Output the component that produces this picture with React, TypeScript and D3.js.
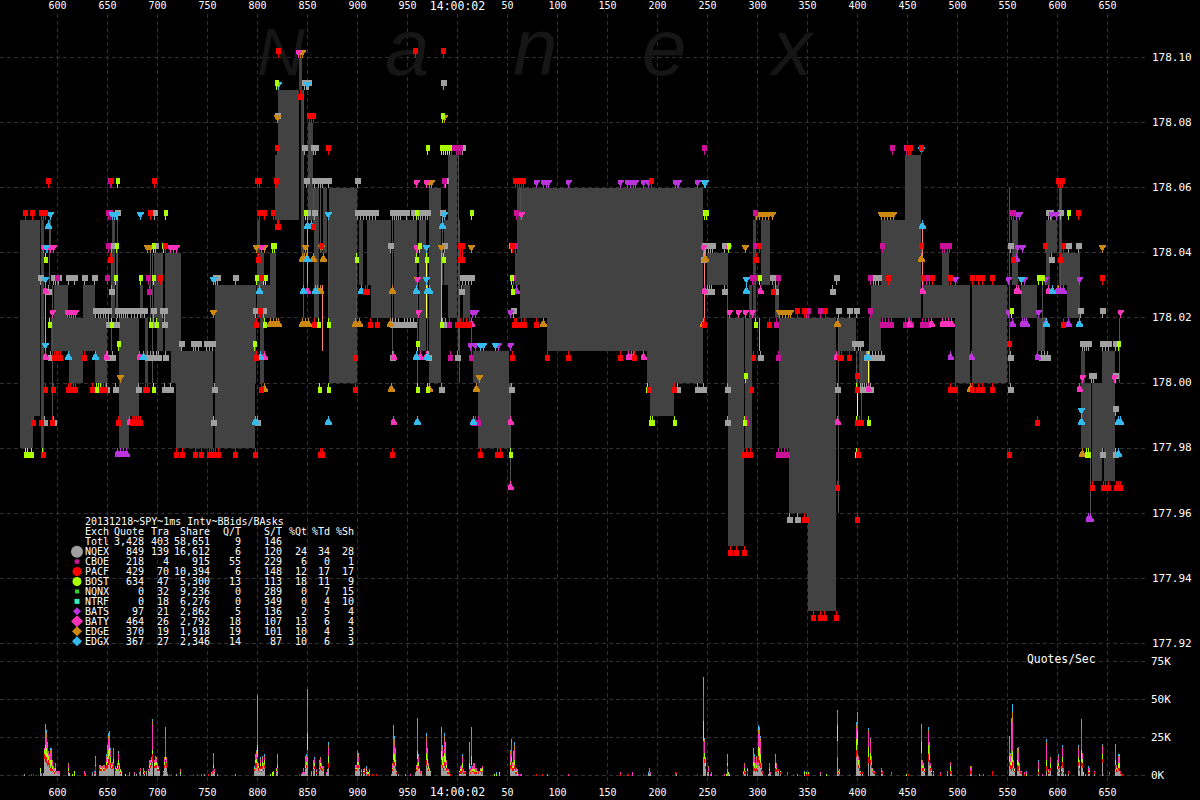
import React, { useEffect, useRef } from "react";
import * as d3 from "d3";

type Level = [number, number[]];

const timeTicks = [600, 650, 700, 750, 800, 850, 900, 950, 1000, 1050, 1100, 1150, 1200, 1250, 1300, 1350, 1400, 1450, 1500, 1550, 1600, 1650];
const timeLabels = ["600", "650", "700", "750", "800", "850", "900", "950", "14:00:02", "50", "100", "150", "200", "250", "300", "350", "400", "450", "500", "550", "600", "650"];
const priceTicks = [178.1, 178.08, 178.06, 178.04, 178.02, 178.0, 177.98, 177.96, 177.94, 177.92];
const volumeTicks = [0, 25, 50, 75];

// best ask / best bid spread: start ms, end ms, ask, bid
const spreads: [number, number, number, number][] = [
  [563, 576, 178.05, 177.98], [576, 583, 178.05, 177.99], [584, 587, 178.05, 177.98], [594, 597, 178.02, 178.01],
  [597, 611, 178.03, 178.01], [611, 612, 178.02, 178.01], [612, 626, 178.02, 178.0], [626, 638, 178.03, 178.01],
  [638, 650, 178.02, 178.0], [655, 658, 178.05, 178.02], [659, 661, 178.04, 178.02], [662, 672, 178.02, 177.98],
  [672, 682, 178.02, 177.99], [683, 686, 178.03, 178.02], [688, 691, 178.02, 178.0], [697, 700, 178.04, 178.02],
  [700, 706, 178.04, 178.01], [708, 714, 178.04, 178.01], [714, 719, 178.04, 178.0], [719, 724, 178.04, 177.98],
  [724, 756, 178.01, 177.98], [758, 798, 178.03, 177.98], [798, 799, 178.03, 178.0], [800, 803, 178.05, 178.02],
  [803, 807, 178.04, 178.0], [807, 813, 178.03, 178.02], [813, 819, 178.04, 178.02], [818, 821, 178.07, 178.05],
  [821, 842, 178.09, 178.05], [842, 845, 178.1, 178.09], [844, 847, 178.09, 178.04], [851, 856, 178.08, 178.05],
  [857, 862, 178.06, 178.02], [866, 870, 178.06, 178.04], [872, 900, 178.06, 178.0], [902, 906, 178.05, 178.03],
  [910, 914, 178.05, 178.03], [914, 934, 178.05, 178.02], [937, 960, 178.05, 178.02], [962, 969, 178.05, 178.01],
  [972, 984, 178.06, 178.0], [987, 991, 178.05, 178.03], [991, 1000, 178.07, 178.02], [1006, 1013, 178.03, 178.02],
  [1016, 1021, 178.01, 178.0], [1021, 1023, 178.01, 177.98], [1023, 1052, 178.01, 177.98], [1052, 1053, 178.0, 177.98],
  [1058, 1060, 178.04, 178.03], [1060, 1063, 178.06, 178.03], [1063, 1090, 178.06, 178.02], [1090, 1190, 178.06, 178.01],
  [1190, 1193, 178.06, 178.0], [1193, 1217, 178.06, 177.99], [1217, 1246, 178.06, 178.0], [1250, 1271, 178.04, 178.03],
  [1271, 1287, 178.02, 177.95], [1288, 1292, 178.02, 177.98], [1292, 1295, 178.03, 177.98], [1296, 1299, 178.05, 178.02],
  [1304, 1313, 178.05, 178.03], [1318, 1322, 178.03, 178.02], [1322, 1332, 178.02, 177.98], [1332, 1351, 178.02, 177.96],
  [1351, 1379, 178.02, 177.93], [1381, 1399, 178.02, 178.01], [1402, 1411, 178.01, 178.0], [1413, 1414, 178.02, 178.01],
  [1414, 1424, 178.03, 178.01], [1424, 1448, 178.05, 178.02], [1448, 1464, 178.07, 178.02], [1466, 1485, 178.03, 178.02],
  [1485, 1492, 178.04, 178.02], [1492, 1498, 178.03, 178.02], [1498, 1513, 178.03, 178.0], [1515, 1550, 178.03, 178.0],
  [1555, 1561, 178.05, 178.03], [1564, 1580, 178.03, 178.02], [1580, 1588, 178.02, 178.01], [1589, 1593, 178.05, 178.03],
  [1593, 1600, 178.05, 178.04], [1602, 1605, 178.06, 178.03], [1604, 1610, 178.04, 178.03], [1610, 1623, 178.04, 178.02],
  [1624, 1628, 178.01, 177.98], [1628, 1633, 178.0, 177.98], [1635, 1645, 178.0, 177.97], [1645, 1647, 178.01, 177.98],
  [1647, 1658, 178.01, 177.97],
];

// thin spread slivers: ms, ask, bid
const thinGray: [number, number, number][] = [
  [592, 178.05, 178.03], [593, 178.05, 178.04], [595, 178.03, 177.99], [654, 178.04, 178.01], [660, 178.05, 178.02],
  [693, 178.04, 178.02], [695, 178.04, 178.0], [704, 178.04, 178.02], [846, 178.09, 178.02], [856, 178.06, 178.05],
  [863, 178.06, 178.04], [871, 178.05, 178.02], [899, 178.04, 178.02], [935, 178.05, 178.01], [960, 178.03, 178.0],
  [970, 178.04, 178.01], [985, 178.05, 178.03], [1001, 178.07, 178.01], [1002, 178.05, 178.0], [1014, 178.02, 178.01],
  [1053, 178.0, 177.97], [1063, 178.06, 178.05], [1270, 178.03, 178.0], [1381, 178.02, 177.96], [1399, 178.01, 178.0],
  [1404, 178.01, 177.99], [1412, 178.02, 178.0], [1552, 178.06, 178.0], [1585, 178.03, 178.01], [1603, 178.06, 178.03],
  [1633, 178.0, 177.96], [1662, 178.02, 178.0],
];
const thinSalmon: [number, number, number][] = [
  [588, 178.03, 178.01], [850, 178.05, 178.03], [865, 178.03, 178.01], [984, 178.04, 178.02],
  [1247, 178.04, 178.02], [1465, 178.05, 178.03], [1302, 178.02, 178.01],
];
const thinYellow: [number, number, number][] = [[969, 178.04, 178.02], [1400, 178.0, 177.99], [1411, 178.01, 178.0]];

const nqexAsks: Level[] = [
  [178.09, [847, 849, 851, 986]], [178.08, [820]], [178.07, [847, 856, 858, 1005]],
  [178.06, [849, 857, 861, 863, 865, 871, 900, 988]],
  [178.05, [660, 697, 850, 857, 900, 903, 906, 909, 912, 915, 918, 935, 937, 939, 941, 943, 949, 956, 961, 963, 965, 968, 970, 985, 1591, 1593, 1603]],
  [178.04, [654, 698, 933, 987, 1003, 1054, 1247, 1248, 1251, 1253, 1255, 1267, 1553, 1611, 1621]],
  [178.03, [583, 596, 598, 601, 611, 617, 627, 637, 758, 760, 778, 1005, 1008, 1011, 1014, 1315, 1318, 1379, 1416, 1418, 1421]],
  [178.02, [638, 641, 643, 646, 648, 651, 660, 662, 664, 666, 668, 670, 674, 677, 680, 683, 687, 696, 705, 707, 798, 806, 1056, 1381, 1392, 1399, 1623, 1645]],
  [178.01, [724, 736, 738, 741, 749, 752, 755, 1397, 1401, 1403, 1625, 1627, 1629, 1631, 1645, 1648, 1651, 1658]],
  [178.0, [1634, 1636, 1658]], [177.99, [1658]],
];
const nqexBids: Level[] = [
  [178.04, [1003, 1246, 1594]], [178.03, [591, 654, 1004, 1250, 1252, 1254, 1267, 1318, 1375]],
  [178.02, [651, 659, 696, 707, 935, 938, 941, 947, 950, 953, 956, 985, 988]],
  [178.01, [593, 650, 655, 690, 693, 696, 699, 701, 708, 935, 971, 1000, 1303, 1409, 1412, 1415, 1418, 1421, 1424, 1553, 1584, 1587, 1590]],
  [178.0, [649, 658, 681, 707, 713, 757, 984, 1054, 1220, 1240, 1246, 1270, 1380, 1403, 1405, 1407, 1409, 1413, 1553]],
  [177.99, [587, 596, 756, 800, 1270]], [177.98, [1645, 1658]], [177.96, [1332, 1340]],
];
const cboeAsks: Level[] = [
  [178.07, [994, 999, 1001, 1003, 1247, 1435, 1449]], [178.06, [653, 987]],
  [178.05, [651, 653, 1059, 1298, 1554, 1556]],
  [178.04, [651, 1058, 1298, 1425, 1485, 1487, 1490, 1492]],
  [178.03, [600, 650, 691, 1056, 1295, 1298, 1321, 1413, 1469, 1472]], [178.02, [1349, 1351, 1363, 1413]],
];
const cboeBids: Level[] = [
  [178.03, [692]], [178.02, [992, 1319, 1425, 1428, 1431, 1434, 1448, 1451, 1454, 1465, 1468, 1471]],
  [178.01, [993, 1014, 1321]], [177.99, [1016, 1018, 1021, 1289]], [177.98, [1321, 1324, 1327, 1330]],
];
const pacfAsks: Level[] = [
  [178.1, [821, 958, 986]], [178.08, [852, 854, 856]], [178.07, [820, 871, 1451, 1453, 1464]],
  [178.06, [591, 654, 697, 800, 802, 819, 1058, 1060, 1062, 1064, 1066, 1194, 1601, 1603, 1605]],
  [178.05, [568, 575, 584, 586, 588, 693, 802, 807, 816, 1621]],
  [178.04, [708, 864, 1003, 1005, 1055, 1302, 1464, 1588, 1606]],
  [178.03, [703, 804, 1431, 1466, 1475, 1493, 1515, 1521, 1525, 1535, 1645]],
  [178.02, [803, 1340, 1347, 1368]], [178.01, [1552]], [178.0, [1400]],
];
const pacfBids: Level[] = [
  [178.09, [843]], [178.05, [820, 821, 856]], [178.04, [653, 801, 1003, 1005, 1299, 1556, 1603]], [178.03, [908, 910, 1316]],
  [178.02, [799, 857, 913, 920, 1000, 1003, 1006, 1009, 1012, 1057, 1059, 1064, 1067, 1079, 1247, 1312, 1606]],
  [178.01, [597, 599, 601, 603, 627, 799, 898, 1055, 1090, 1111, 1163, 1177, 1296, 1382, 1384, 1392]],
  [178.0, [588, 596, 611, 613, 616, 618, 635, 644, 646, 648, 688, 690, 804, 898, 1192, 1217, 1294, 1400, 1493, 1498, 1515, 1521, 1525, 1535]],
  [177.99, [576, 584, 595, 661, 675, 677, 679, 681, 683, 1400, 1402, 1404, 1580]],
  [177.98, [586, 719, 725, 738, 744, 752, 754, 756, 758, 761, 778, 798, 863, 865, 935, 1023, 1040, 1043, 1286, 1289, 1293, 1401, 1552]],
  [177.97, [1380, 1635, 1646, 1648, 1651, 1659, 1661, 1663]], [177.96, [1347, 1350, 1400]],
  [177.95, [1273, 1279, 1287]], [177.93, [1356, 1363, 1367, 1379]],
];
const bostAsks: Level[] = [
  [178.09, [819]], [178.08, [985]], [178.07, [970, 984, 986, 988, 990, 992]], [178.06, [660]],
  [178.05, [708, 848, 959, 1014, 1247, 1249, 1611]], [178.04, [659, 696, 706, 815, 817, 962, 1271]],
  [178.03, [658, 683, 696, 799, 806, 808, 1054, 1302, 1581, 1585]], [178.02, [1554]],
  [178.01, [661, 797, 960, 1661]], [178.0, [1288]],
];
const bostBids: Level[] = [
  [178.04, [588, 899, 959, 969, 986]], [178.03, [1055]],
  [178.02, [592, 654, 693, 699, 807, 861, 871, 984, 1298]],
  [178.0, [639, 641, 643, 696, 862, 871, 960, 970, 1190, 1399]],
  [177.99, [1193, 1195, 1217, 1287, 1399, 1411]], [177.98, [568, 570, 574, 585, 1053, 1399, 1629, 1631]],
];
const batsAsks: Level[] = [
  [178.06, [1079, 1086, 1089, 1091, 1111, 1163, 1170, 1173, 1176, 1178, 1186, 1191, 1218, 1220, 1221, 1240]],
  [178.05, [1559, 1562, 1594, 1599]], [178.04, [1560, 1565]],
  [178.03, [1498, 1551, 1564, 1567, 1588, 1622]], [178.02, [1015, 1018, 1053, 1551, 1581]], [178.01, [1013, 1018, 1041, 1053]],
];
const batsBids: Level[] = [
  [178.04, [1559]], [178.03, [1059, 1600, 1603, 1606]], [178.02, [1555, 1565, 1567, 1569, 1588, 1611]],
  [178.01, [1493, 1514, 1580]], [177.98, [660, 663, 666, 669]], [177.96, [1631, 1633]],
];
const batyAsks: Level[] = [
  [178.1, [841]], [178.06, [959, 969]], [178.05, [1064]],
  [178.04, [586, 590, 593, 596, 713, 716, 719, 804, 959, 1246, 1271]], [178.03, [960]],
  [178.02, [595, 610, 612, 614, 616, 618, 961, 1272, 1281, 1288, 1295, 1663]], [178.0, [1625, 1657]],
];
const batyBids: Level[] = [
  [178.03, [588, 850, 1247, 1303, 1465, 1559, 1561, 1591]], [178.02, [1014, 1452, 1474, 1485, 1488, 1491, 1494]],
  [178.01, [588, 649, 682, 807, 936, 963, 969, 1171, 1174, 1176, 1186, 1379]],
  [178.0, [1411, 1622]], [177.99, [672, 936, 1053, 1380, 1661]], [177.97, [1053]],
];
const edgeAsks: Level[] = [
  [178.1, [843, 845]], [178.08, [820, 987]], [178.06, [972, 974]],
  [178.05, [1299, 1302, 1305, 1308, 1311, 1315, 1424, 1427, 1430, 1433, 1436]],
  [178.04, [690, 693, 799, 807, 848, 864, 960, 984, 1014, 1288, 1645]], [178.03, [960]],
  [178.02, [756, 1322, 1325, 1328, 1331, 1333]], [178.0, [663, 1022]],
];
const edgeBids: Level[] = [
  [178.04, [845, 847, 849, 856, 866, 1248, 1464]], [178.03, [858, 860, 863, 935, 1601]],
  [178.02, [813, 816, 819, 821, 845, 848, 851, 898, 902, 933, 1086, 1246, 1380]],
  [178.0, [807, 934, 972, 1019, 1513]], [177.98, [1625]],
];
const edgxAsks: Level[] = [
  [178.09, [821, 850]], [178.07, [1464]], [178.06, [1247, 1248]], [178.05, [593, 655, 657, 659, 683, 871, 987]],
  [178.04, [589, 969]], [178.03, [588, 756, 969, 1289, 1564]], [178.01, [588, 1023, 1026, 1038]], [177.99, [1624]],
];
const edgxBids: Level[] = [
  [178.05, [591, 850, 854, 985, 1465]], [178.04, [850]],
  [178.03, [802, 846, 858, 904, 959, 970, 972, 1289, 1595]], [178.02, [1589, 1622]],
  [178.01, [611, 638, 686, 803, 959, 970, 1410]], [177.99, [798, 871, 960, 1016, 1624, 1661, 1663]], [177.98, [1661]],
];

const exchanges = [
  { name: "NQEX", color: "#a0a0a0", head: 6, style: "block", asks: nqexAsks, bids: nqexBids },
  { name: "EDGE", color: "#cc8811", head: 7, style: "cap", asks: edgeAsks, bids: edgeBids },
  { name: "BATS", color: "#bb33dd", head: 6, style: "cap", asks: batsAsks, bids: batsBids },
  { name: "CBOE", color: "#cc1199", head: 5, style: "block", asks: cboeAsks, bids: cboeBids },
  { name: "BATY", color: "#ff33bb", head: 6, style: "cap", asks: batyAsks, bids: batyBids },
  { name: "EDGX", color: "#33bbee", head: 7, style: "cap", asks: edgxAsks, bids: edgxBids },
  { name: "BOST", color: "#aaff00", head: 4, style: "block", asks: bostAsks, bids: bostBids },
  { name: "PACF", color: "#ff0000", head: 5, style: "block", asks: pacfAsks, bids: pacfBids },
];

// quotes per second in thousands: ms, NQEX, PACF, BOST, BATY, EDGE, EDGX
const volumeRows: number[][] = [
  [567,1,0,0,0,0,0],[574,0,1,0,0,0,0],[576,0,1,0,0,0,0],[583,2,0,3,0,0,0],[584,1,0,0,0.5,0,0],[586,1.5,0,0,0,0,0],
  [587,11,3,3,1,0,0],[588,9,4,7,8,3,3],[589,8,4,6,7,3,2],[590,6,3,6,4,2,1],[591,7,3,3,2,1,0],[592,5,3,2,3,1,0],
  [593,3,2,5,5,2,1],[594,3,3,4,5,2,1],[595,3,1,2,3,1,0],[596,2,1,1,1,1,0],[597,1,1,1,1,1,0],[598,2,1,2,2,0,1],
  [599,2,0,0,1,0,0],[600,1,0,0,2,0,0],[601,1,0,0,2,0,0],[602,1,0,0,2,0,0],
  [611,2,1,2,2,1,0],[612,0,0,1.5,0,0,0],[615,0,0,1,0,0,0],[617,0,0,3,0,0,0],[627,0,1,0,2,0,0],[628,0,0,0,1.5,0,0],
  [635,1,0,0,0,0,1],[637,1,1,0,0,0,1],[638,3,3,1,4,1,1],[642,3,2,0,1,1,0],[643,3,1,1,1,1,0],[644,3,1,1,1,0,0],
  [645,3,0,1,1,1,0],[646,3,1,1,1,1,0],[647,3,1,1,1,1,0],[648,4,1,0,0,0,0],[649,4,3,2,3,1,1],[650,5,3,4,5,1,2],
  [651,7,4,6,7,2,2],[652,8,5,6,6,2,2],[653,5,3,4,4,1,1],[654,4,1,2,1,0,0],[655,4,2,1,1,1,0],[656,5,3,3,5,1,1],
  [658,3,1,1,1,0,0],[659,3,0,1,1,0,0],[660,4,1,1,1,1,0],[661,4,3,3,4,1,1],[662,3,1,2,1,1,0],[663,1,1,2,0,0,0],[664,0,0,3,0,0,0],
  [668,0,0,1,0,0,0],[672,1,0,0,1,0,0],[677,1,0,0,1,0,0],[679,1,0,0,0,0,0],[682,0,1,0,1,0,0],[683,3,1,0,1,0,0],
  [686,0,1,1,1,1,1],[687,1,1,1,0,0,0],[689,3,0,0,0,0,0],[691,2,0,1,1,0,0],[692,2,3,2,2,1,0],[693,5,2,1,2,0,0],
  [694,6,3,1,1,1,0],[695,9,5,3,16,3,1],[697,5,1,2,2,0,0],[698,5,2,2,3,1,0],[699,5,2,2,2,1,0],[700,3,1,2,1,1,0],
  [701,3,1,1,1,0,0],[702,2,0,1,0,0,0],[706,1,1,1,0,0,0],[707,5,2,2,2,1,0],[708,7,3,2,12,4,4],[709,5,3,1,2,1,0],
  [710,1,1,0,0,0,0],[712,0,1,0,0,0,0],[714,0,1,0,0,0,0],[719,1,0,0,0,0,0],[723,1,0,1,1,1,0],
  [736,0,1,0,0,0,0],[740,0,1,0,0,0,0],[744,0,0,0,1,0,0],[747,1,0,0,0,0,0],[751,0,1,0,0,0,0],[754,1,0,0,0,1,0],
  [755,1,1,0,1,0,0],[756,3,2,2,6,1,1],[757,2,1,0,1,0,0],[760,1,0,0,0,0,0],[778,1,0,0,0,0,0],
  [797,3,1,1,0,0,1],[798,5,3,2,2,1,1],[799,5,3,3,3,2,1],[800,9,3,8,18,5,10],[801,3,2,1,1,1,0],[802,2,1,1,1,0,0],
  [803,4,2,2,2,1,1],[804,2,1,1,1,0,0],[805,4,2,3,2,1,1],[806,3,1,2,1,1,0],[807,5,2,3,2,1,1],[813,0,0,1,0,0,0],
  [815,0,0,2,0,0,0],[816,1,0,1,1,0,0],[819,2,1,1,1,0,0],[820,3,2,2,4,1,2],
  [842,0,1,0,0,0,0],[844,1,0,0,0,0,0],[845,1,0,0,1,0,0],[846,2,1,0,1,1,0],[847,1,0,0,1,0,0],[848,4,1,2,4,1,1],
  [849,5,2,2,3,1,1],[850,12,5,11,17,6,6],[854,2,0,0,1,0,0],[856,3,1,1,3,1,1],[857,4,2,2,3,0,1],[859,1,1,1,1,0,0],
  [862,3,1,1,3,1,1],[863,4,2,2,3,1,0],[864,3,2,1,1,1,0],[865,3,1,1,1,0,0],[866,4,1,0,1,0,0],[869,1,0,0,1,0,0],
  [870,2,0,0,1,1,0],[871,5,3,5,5,2,2],
  [898,3,1,1,1,0,1],[899,3,1,1,2,0,0],[900,5,2,2,4,2,1],[901,5,2,2,3,2,1],[902,3,1,1,1,1,0],[904,1,1,1,1,0,0],
  [906,1,1,1,1,0,0],[907,1,1,1,1,1,0],[909,2,1,1,1,0,1],[910,0,1,1,1,0,0],[911,0,1,1,0,0,0],[912,1,1,1,1,0,0],
  [915,0,1,0,0,0,0],[919,0,1,0,0,0,0],
  [934,1,0,0,0,0,0],[935,3,1,1,2,1,0],[936,7,3,5,9,5,4],[937,6,3,5,6,4,2],[938,4,2,4,5,2,1],[939,1,1,1,0,0,0],
  [941,1,0,0,0,0,0],[948,1,0,0,0,0,0],[953,0,0,0,1,0,0],[958,1,0,0,1,0,0],[959,3,1,1,1,1,0],
  [960,8,3,5,11,6,5],[961,4,2,3,3,1,1],[962,3,0,1,1,0,0],[963,1,1,0,1,0,0],[964,3,0,0,0,0,0],
  [969,7,3,5,8,3,2],[970,5,2,4,4,2,1],[971,3,1,2,1,1,0],[972,3,0,1,1,0,0],[973,2,0,1,0,0,0],
  [984,7,3,6,10,3,3],[985,5,2,5,5,2,1],[986,3,2,3,3,1,1],[987,6,3,6,8,3,2],[988,5,3,5,6,2,1],[989,3,2,2,2,1,0],
  [990,1,1,1,1,0,0],[991,1,1,1,1,0,0],[992,1,1,0,1,0,0],
  [993,0,1,0,0,0,0],[1002,1,1,1,0,0,0],[1003,1,2,1,2,0,0],[1004,1,2,2,2,0,0],[1005,2,3,3,4,1,1],[1006,1,1,1,1,0,0],
  [1007,1,1,0,1,0,0],[1008,1,1,0,1,0,0],[1012,2,2,4,8,3,3],[1013,1,1,1,2,0,1],[1014,4,3,6,11,4,4],[1015,2,1,1,2,0,0],
  [1016,2,1,1,4,0,0],[1017,1,1,2,4,0,0],[1018,1,1,1,2,0,0],[1019,1,1,1,2,0,0],[1020,1,0,1,1,0,0],[1021,1,1,0,1,0,0],
  [1022,1,0,1,1,0,0],[1023,2,1,1,1,0,0],[1024,1,1,2,1,0,0],[1025,2,1,2,1,0,0],
  [1037,0,0,1,0,0,0],[1039,0,0,1,0,0,1],[1042,1,0,1,0,0,0],
  [1053,4,3,2,5,2,1],[1054,5,4,3,8,3,1],[1055,3,2,1,2,1,0],[1056,3,2,3,5,2,1],[1057,4,3,3,7,3,2],[1058,1,1,1,1,0,0],
  [1059,1,1,1,1,1,0],[1060,1,0,1,1,1,0],[1061,0,0,0,1,0,0],[1063,0,0,0,1,0,0],[1064,0,0,0,1,0,0],[1079,0,1,0,0,0,0],
  [1085,0,1,0,0,0,0],[1090,1,0,0,0,0,0],[1111,0,0,0,1,0,0],
  [1163,0,1,0,1,0,0],[1170,0,1,0,0,0,0],[1171,0,1,0,0,0,0],[1175,0,0,0,2,0,0],[1186,0,1,0,0,0,0],[1191,1,0,0,0,0,1],
  [1192,1,1,1,1,1,0],[1193,1,0,0,1,0,0],[1218,0,2,0,0,0,0],[1219,1,1,0,0,0,0],[1240,0,1,0,0,0,0],
  [1246,12,11,13,17,6,6],[1247,8,3,4,7,2,1],[1248,4,2,2,2,1,1],[1250,1,0,0,1,0,0],[1251,2,1,0,2,1,0],[1253,0,0,0,1,0,0],
  [1254,1,0,0,1,0,0],[1267,0,0,0,1,0,0],[1269,0,0,1,0,0,0],[1270,4,2,2,3,1,2],[1271,1,0,1,0,0,0],[1272,0,0,1,0,0,0],
  [1286,0,1,1,1,0,0],[1287,1,2,2,2,1,0],[1288,1,1,1,0,0,0],[1290,1,2,1,1,0,0],[1296,3,3,3,5,2,2],[1297,3,2,3,4,1,1],
  [1298,2,2,1,2,1,0],[1299,3,2,2,3,2,1],[1300,2,2,1,3,1,0],[1301,8,5,6,8,3,3],[1302,6,4,8,9,3,2],[1303,5,3,6,8,3,1],
  [1304,2,2,1,2,1,0],[1305,1,1,0,1,0,0],[1311,1,0,0,0,0,0],[1312,2,1,1,3,0,1],[1313,1,0,0,1,0,0],[1318,2,3,3,4,1,1],
  [1319,2,2,1,2,1,0],[1320,1,1,0,1,0,0],[1321,3,1,0,0,0,0],[1323,1,1,1,0,0,0],[1330,0,1,0,1,0,0],[1336,0,1,0,0,0,0],
  [1340,0,0,0,0,0,1],[1347,1,0,1,0,0,1],[1349,0,1,1,0,0,0],[1351,0,1,1,0,0,0],[1363,1,0,0,1,0,0],[1369,0,0,1,0,0,0],
  [1380,12,11,10,7,2,1],[1381,1,1,1,0,0,0],[1382,0,1,1,1,1,0],[1392,0,1,0,0,0,0],
  [1399,12,5,7,7,2,2],[1400,14,6,9,8,3,2],[1401,5,2,3,2,1,0],[1402,3,2,2,2,1,0],[1403,1,1,1,0,0,0],[1405,1,1,0,0,0,0],
  [1411,8,4,7,9,2,1],[1413,7,3,5,7,2,1],[1414,5,2,2,3,1,0],[1415,2,1,1,1,0,0],[1416,1,1,1,0,0,0],[1417,1,1,0,1,0,0],
  [1424,1,1,1,1,0,1],[1425,1,1,0,1,0,0],[1434,0,1,0,1,0,0],[1449,0,0,1,0,0,0],[1451,0,1,0,0,0,0],
  [1464,10,5,7,8,2,2],[1465,3,2,2,2,1,0],[1466,3,2,1,1,1,0],[1467,2,1,1,1,0,0],[1471,9,5,6,8,2,2],[1472,7,3,4,5,2,1],
  [1473,3,2,1,2,0,0],[1474,1,1,1,1,0,0],[1476,1,1,1,0,0,0],[1483,0,1,0,1,0,0],[1490,1,0,0,2,0,0],[1493,1,2,3,2,1,0],
  [1494,1,1,0,1,0,0],[1513,1,2,0,2,1,0],[1514,1,2,0,2,1,0],[1522,1,0,0,0,0,0],[1526,0,0,0,1,0,0],[1535,0,3,0,0,0,0],
  [1552,6,3,4,8,2,3],[1553,4,3,2,4,1,1],[1554,3,3,6,15,6,5],[1555,5,4,7,19,7,5],[1556,3,2,1,3,1,0],[1557,2,1,1,1,0,0],
  [1560,3,4,3,5,2,1],[1561,3,3,3,6,3,1],[1562,2,1,2,2,1,0],[1563,1,1,0,1,0,0],[1564,1,1,1,0,0,0],[1567,0,1,0,1,0,0],
  [1569,0,0,1,1,0,1],[1581,1,1,2,5,0,1],[1585,0,0,0,1,0,0],[1589,3,3,4,10,2,2],[1591,1,1,1,1,0,0],[1592,1,1,0,1,0,0],
  [1593,3,2,3,3,1,0],[1600,2,2,2,3,1,0],[1601,4,2,2,4,1,1],[1602,1,1,1,2,0,0],[1604,1,2,1,2,0,0],[1605,5,4,3,6,1,1],
  [1606,1,1,1,2,0,0],[1608,1,0,0,0,0,0],[1611,1,1,0,1,0,0],
  [1621,6,3,3,5,2,1],[1622,3,2,2,2,1,0],[1624,6,3,8,12,4,4],[1625,5,3,3,3,1,0],[1626,1,0,1,0,0,0],[1628,1,0,0,0,0,0],
  [1631,1,1,1,2,0,1],[1632,1,1,1,1,1,0],[1637,1,1,0,1,0,0],[1645,8,3,3,5,1,1],[1646,0,1,0,0,0,0],[1652,0,1,0,1,0,0],
  [1658,4,3,3,7,2,2],[1659,2,2,1,1,1,0],[1660,2,1,1,1,0,0],[1661,3,2,3,4,1,1],[1662,3,2,3,3,2,1],[1663,1,1,0,1,0,0],
  [1664,0,1,0,0,0,0],[1665,0,1,0,0,0,0],
];
const volumeKeys = ["nqex", "pacf", "bost", "baty", "edge", "edgx"];
const volumeColors = ["#a0a0a0", "#ff0000", "#aaff00", "#ff33bb", "#cc8811", "#33bbee"];

const legendTitle = "20131218~SPY~1ms Intv~BBids/BAsks";
const legendHeader = ["Quote", "Tra", "Share", "Q/T", "S/T", "%Qt", "%Td", "%Sh"];
const legendRight = [144, 169, 210, 241, 282, 307, 330, 354];
const legendNames = ["Totl", "NQEX", "CBOE", "PACF", "BOST", "NQNX", "NTRF", "BATS", "BATY", "EDGE", "EDGX"];
const legendValues = [
  ["3,428", "403", "58,651", "9", "146", "", "", ""],
  ["849", "139", "16,612", "6", "120", "24", "34", "28"],
  ["218", "4", "915", "55", "229", "6", "0", "1"],
  ["429", "70", "10,394", "6", "148", "12", "17", "17"],
  ["634", "47", "5,300", "13", "113", "18", "11", "9"],
  ["0", "32", "9,236", "0", "289", "0", "7", "15"],
  ["0", "18", "6,276", "0", "349", "0", "4", "10"],
  ["97", "21", "2,862", "5", "136", "2", "5", "4"],
  ["464", "26", "2,792", "18", "107", "13", "6", "4"],
  ["370", "19", "1,918", "19", "101", "10", "4", "3"],
  ["367", "27", "2,346", "14", "87", "10", "6", "3"],
];
const legendSymbols = [
  { name: "NQEX", kind: "circle", size: 6, color: "#a0a0a0" },
  { name: "CBOE", kind: "circle", size: 2.5, color: "#cc1199" },
  { name: "PACF", kind: "circle", size: 4.5, color: "#ff0000" },
  { name: "BOST", kind: "circle", size: 4.5, color: "#aaff00" },
  { name: "NQNX", kind: "square", size: 2, color: "#22dd22" },
  { name: "NTRF", kind: "square", size: 2.5, color: "#33eebb" },
  { name: "BATS", kind: "diamond", size: 4, color: "#bb33dd" },
  { name: "BATY", kind: "diamond", size: 6, color: "#ff33bb" },
  { name: "EDGE", kind: "diamond", size: 5, color: "#cc8811" },
  { name: "EDGX", kind: "diamond", size: 5, color: "#33bbee" },
];

const watermarkLetters = ["N", "a", "n", "e", "x"];
const watermarkX = [257, 385, 513, 642, 772];
const watermarkSize = [66, 80, 80, 80, 80];

const mono = "'DejaVu Sans Mono', monospace";

const App: React.FC = () => {
  const ref = useRef<SVGSVGElement>(null);

  useEffect(() => {
    const width = 1200;
    const height = 800;
    const svg = d3.select(ref.current);
    svg.selectAll("*").remove();

    const x = d3.scaleLinear().domain([600, 1650]).range([57.5, 1107.5]);
    const y = d3.scaleLinear().domain([177.92, 178.1]).range([643.5, 57.5]);
    const v = d3.scaleLinear().domain([0, 75]).range([775.5, 661.5]);

    svg.append("rect").attr("width", width).attr("height", height).attr("fill", "#000");

    // grid
    const grid = svg.append("g").attr("stroke", "#303030").attr("stroke-dasharray", "4,3").attr("shape-rendering", "crispEdges");
    grid.selectAll(".gx").data(timeTicks).join("line").attr("x1", d => x(d)).attr("x2", d => x(d)).attr("y1", 14).attr("y2", 785);
    grid.selectAll(".gy").data(priceTicks).join("line").attr("x1", 0).attr("x2", 1147).attr("y1", d => y(d)).attr("y2", d => y(d));
    grid.selectAll(".gv").data(volumeTicks).join("line").attr("x1", 0).attr("x2", 1147).attr("y1", d => v(d)).attr("y2", d => v(d));

    // watermark
    svg.append("g").selectAll("text").data(watermarkLetters).join("text")
      .attr("x", (_, i) => watermarkX[i]).attr("y", 75)
      .attr("font-family", "'Liberation Sans', sans-serif").attr("font-style", "italic")
      .attr("font-size", (_, i) => watermarkSize[i]).attr("fill", "#161616")
      .text(d => d);

    // spread
    svg.append("g").attr("fill", "#424242").attr("shape-rendering", "crispEdges")
      .selectAll("rect").data(spreads).join("rect")
      .attr("x", d => x(d[0]) - 0.5).attr("width", d => x(d[1]) - x(d[0]))
      .attr("y", d => y(d[2])).attr("height", d => y(d[3]) - y(d[2]));

    const thin = (rows: [number, number, number][], color: string) => {
      svg.append("g").attr("stroke", color).attr("shape-rendering", "crispEdges")
        .selectAll("line").data(rows).join("line")
        .attr("x1", d => x(d[0])).attr("x2", d => x(d[0]))
        .attr("y1", d => y(d[1])).attr("y2", d => y(d[2]));
    };
    thin(thinGray, "#505050");
    thin(thinSalmon, "#ff8080");
    thin(thinYellow, "#ffff55");

    // quote pins, ask heads above the level and bid heads below it
    const pin = (t: number, price: number, dir: number, head: number, style: string) => {
      const p = d3.path();
      const cx = Math.floor(x(t)) + 0.5;
      const cy = Math.round(y(price));
      const w = head / 2;
      if (style === "block") {
        p.moveTo(cx - w, cy + dir * 10);
        p.lineTo(cx + w, cy + dir * 10);
        p.lineTo(cx + w, cy + dir * 4);
        p.lineTo(cx + 0.5, cy + dir * 3.5);
      } else {
        p.moveTo(cx - w, cy + dir * 8.5);
        p.lineTo(cx + w, cy + dir * 8.5);
        p.lineTo(cx + w, cy + dir * 6.5);
        p.lineTo(cx + 2.5, cy + dir * 6);
        p.lineTo(cx + 1.5, cy + dir * 3);
        p.lineTo(cx + 0.5, cy + dir * 3);
      }
      p.lineTo(cx + 0.5, cy);
      p.lineTo(cx - 0.5, cy);
      if (style === "block") {
        p.lineTo(cx - 0.5, cy + dir * 3.5);
        p.lineTo(cx - w, cy + dir * 4);
      } else {
        p.lineTo(cx - 0.5, cy + dir * 3);
        p.lineTo(cx - 1.5, cy + dir * 3);
        p.lineTo(cx - 2.5, cy + dir * 6);
        p.lineTo(cx - w, cy + dir * 6.5);
      }
      p.closePath();
      return p.toString();
    };

    exchanges.forEach(ex => {
      const flat = (levels: Level[]) => levels.flatMap(([price, times]) => times.map(t => ({ t, price })));
      const g = svg.append("g").attr("fill", ex.color).attr("shape-rendering", "crispEdges");
      g.selectAll(".a").data(flat(ex.asks)).join("path").attr("d", d => pin(d.t, d.price, -1, ex.head, ex.style));
      g.selectAll(".b").data(flat(ex.bids)).join("path").attr("d", d => pin(d.t, d.price, 1, ex.head, ex.style));
    });

    // stacked quotes per second
    const rows = volumeRows.map(r => ({ t: r[0], nqex: r[1], pacf: r[2], bost: r[3], baty: r[4], edge: r[5], edgx: r[6] }));
    const stacked = d3.stack<any>().keys(volumeKeys)(rows);
    svg.append("g").attr("shape-rendering", "crispEdges").selectAll("g").data(stacked).join("g")
      .attr("fill", (_, i) => volumeColors[i])
      .selectAll("rect").data(d => d.map(s => ({ t: (s.data as any).t, y0: s[0], y1: s[1] }))).join("rect")
      .attr("x", d => x(d.t) - 0.5).attr("width", 1)
      .attr("y", d => v(d.y1)).attr("height", d => v(d.y0) - v(d.y1));

    // time axis, top and bottom
    [5.5, 792].forEach(ty => {
      svg.append("g").selectAll("text").data(timeTicks).join("text")
        .attr("x", d => x(d)).attr("y", ty).attr("dy", "0.35em").attr("text-anchor", "middle")
        .attr("font-family", mono).attr("font-size", (_, i) => (timeLabels[i].length > 3 ? 11.5 : 10)).attr("fill", "#fff")
        .text((_, i) => timeLabels[i]);
    });

    svg.append("g").selectAll("text").data(priceTicks).join("text")
      .attr("x", 1152).attr("y", d => y(d)).attr("dy", "0.3em")
      .attr("font-family", mono).attr("font-size", 11).attr("fill", "#fff")
      .text(d => d.toFixed(2));

    svg.append("g").selectAll("text").data(volumeTicks).join("text")
      .attr("x", 1151).attr("y", d => v(d)).attr("dy", "0.3em")
      .attr("font-family", mono).attr("font-size", 11).attr("fill", "#fff")
      .text(d => `${d}K`);

    svg.append("text").attr("x", 1027).attr("y", 660).attr("dy", "0.3em")
      .attr("font-family", mono).attr("font-size", 11.4).attr("fill", "#fff").text("Quotes/Sec");

    // legend table
    const legend = svg.append("g").attr("font-family", mono).attr("font-size", 10).attr("fill", "#fff");
    const rowY = (i: number) => 541.7 + i * 9.95;
    legend.append("text").attr("x", 85).attr("y", 521.7).attr("dy", "0.35em").text(legendTitle);
    legend.append("text").attr("x", 85).attr("y", 531.7).attr("dy", "0.35em").text("Exch");
    legendHeader.forEach((h, c) => {
      legend.append("text").attr("x", legendRight[c]).attr("y", 531.7).attr("dy", "0.35em").attr("text-anchor", "end").text(h);
    });
    legendNames.forEach((name, r) => {
      legend.append("text").attr("x", 85).attr("y", rowY(r)).attr("dy", "0.35em").text(name);
      legendValues[r].forEach((val, c) => {
        legend.append("text").attr("x", legendRight[c]).attr("y", rowY(r)).attr("dy", "0.35em").attr("text-anchor", "end").text(val);
      });
    });

    legendSymbols.forEach(s => {
      const cy = rowY(legendNames.indexOf(s.name));
      if (s.kind === "circle") {
        svg.append("circle").attr("cx", 77).attr("cy", cy).attr("r", s.size).attr("fill", s.color);
      } else if (s.kind === "square") {
        svg.append("rect").attr("x", 77 - s.size).attr("y", cy - s.size).attr("width", s.size * 2).attr("height", s.size * 2).attr("fill", s.color);
      } else {
        svg.append("path").attr("fill", s.color)
          .attr("d", `M77,${cy - s.size}L${77 + s.size},${cy}L77,${cy + s.size}L${77 - s.size},${cy}Z`);
      }
    });
  }, []);

  return <svg ref={ref} width={1200} height={800} style={{ position: "absolute", left: 0, top: 0 }} />;
};

export default App;
